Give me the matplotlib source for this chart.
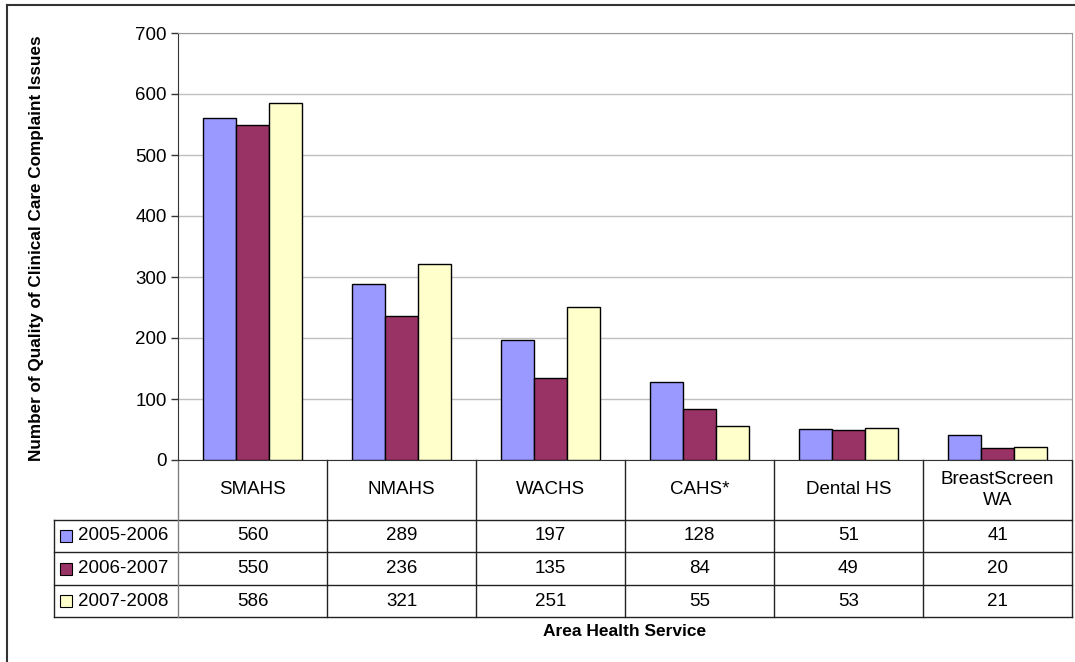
import matplotlib
matplotlib.use("Agg")
import matplotlib.pyplot as plt
import matplotlib.transforms as mtransforms
import numpy as np

categories = ["SMAHS", "NMAHS", "WACHS", "CAHS*", "Dental HS", "BreastScreen\nWA"]
series_names = ["2005-2006", "2006-2007", "2007-2008"]
vals_2005 = [560, 289, 197, 128, 51, 41]
vals_2006 = [550, 236, 135, 84, 49, 20]
vals_2007 = [586, 321, 251, 55, 53, 21]
yticks = [0, 100, 200, 300, 400, 500, 600, 700]

colors = ["#9999ff", "#993366", "#ffffcc"]
series = [vals_2005, vals_2006, vals_2007]

plt.rcParams["font.family"] = ["Liberation Sans", "DejaVu Sans"]

W, H = 1075, 662
fig = plt.figure(figsize=(W / 100, H / 100), dpi=100)

# plot area in pixels
left, right, top, bottom = 178, 1072, 33, 460
ax = fig.add_axes([left / W, 1 - bottom / H, (right - left) / W, (bottom - top) / H])

n = len(categories)
x = np.arange(n)
bw = 1 / 4.5
for k, (vals, c) in enumerate(zip(series, colors)):
    ax.bar(x + (k - 1) * bw, vals, width=bw, color=c, edgecolor="black", linewidth=1, zorder=3)

ax.set_xlim(-0.5, n - 0.5)
ax.set_ylim(0, 700)
ax.set_yticks(yticks)
ax.set_xticks([])
ax.yaxis.grid(True, color="#c0c0c0", linewidth=1)
ax.set_axisbelow(True)
ax.tick_params(axis="y", direction="out", length=5, width=1, color="#333333", labelsize=13.5, pad=3)
for s in ["top", "right"]:
    ax.spines[s].set_color("#999999")
ax.spines["left"].set_color("#333333")
ax.spines["bottom"].set_color("#333333")

# data table under the plot
trans = mtransforms.blended_transform_factory(ax.transData, ax.transAxes)
ph = bottom - top


def py(p):
    return (bottom - p) / ph


def px(p):
    return -0.5 + (p - left) / ((right - left) / n)


row_y = [520, 552, 585, 617]
lc = "#222222"
for yy in row_y:
    ax.plot([px(54), n - 0.5], [py(yy)] * 2, color=lc, lw=1, transform=trans, clip_on=False)
for i in range(n - 1):
    ax.plot([i + 0.5] * 2, [py(bottom), py(617)], color=lc, lw=1, transform=trans, clip_on=False)
ax.plot([n - 0.5] * 2, [py(bottom), py(617)], color=lc, lw=1, transform=trans, clip_on=False)
ax.plot([-0.5] * 2, [py(bottom), py(617)], color="#808080", lw=1, transform=trans, clip_on=False)
ax.plot([px(54)] * 2, [py(520), py(617)], color=lc, lw=1, transform=trans, clip_on=False)

for i, cat in enumerate(categories):
    ax.text(i, py(490), cat, ha="center", va="center", fontsize=13.5, transform=trans,
            linespacing=1.35)

row_mid = [(row_y[j] + row_y[j + 1]) / 2 for j in range(3)]
for j, (name, vals, c) in enumerate(zip(series_names, series, colors)):
    ym = py(row_mid[j])
    ax.plot([px(66)], [ym], marker="s", markersize=9, markerfacecolor=c,
            markeredgecolor="black", markeredgewidth=0.8, transform=trans, clip_on=False)
    ax.text(px(78), ym, name, ha="left", va="center", fontsize=13.5, transform=trans)
    for i, v in enumerate(vals):
        ax.text(i, ym, str(v), ha="center", va="center", fontsize=13.5, transform=trans)

fig.text(37 / W, 1 - 248 / H, "Number of Quality of Clinical Care Complaint Issues",
         rotation=90, ha="center", va="center", fontsize=12.3, fontweight="bold")
fig.text(625 / W, 1 - 632 / H, "Area Health Service", ha="center", va="center",
         fontsize=12.5, fontweight="bold")

# outer chart border
fig.add_artist(plt.Line2D([7 / W, 1.01], [1 - 5 / H] * 2, color="#333333", lw=1.5,
                          transform=fig.transFigure))
fig.add_artist(plt.Line2D([7 / W] * 2, [1 - 5 / H, -0.01], color="#333333", lw=1.5,
                          transform=fig.transFigure))

fig.savefig("out.png", dpi=100)
